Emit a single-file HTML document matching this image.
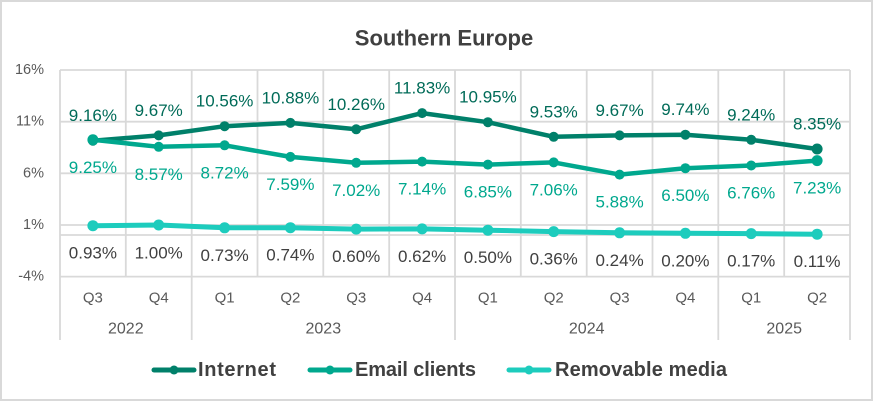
<!DOCTYPE html>
<html><head><meta charset="utf-8"><style>
html,body{margin:0;padding:0;background:#fff;}
svg{display:block;font-family:"Liberation Sans",sans-serif;}
</style></head><body>
<svg width="874" height="402" viewBox="0 0 874 402" xmlns="http://www.w3.org/2000/svg">
<rect x="1" y="1" width="871" height="399" fill="#fff" stroke="#d9d9d9" stroke-width="2"/>
<text x="444" y="38" text-anchor="middle" dominant-baseline="central" font-size="22" font-weight="bold" fill="#404040">Southern Europe</text>
<g stroke="#d9d9d9" stroke-width="1.8" fill="none">
<line x1="60" y1="70" x2="850" y2="70"/>
<line x1="60" y1="121.7" x2="850" y2="121.7"/>
<line x1="60" y1="173.3" x2="850" y2="173.3"/>
<line x1="60" y1="225" x2="850" y2="225"/>
<line x1="60" y1="235" x2="850" y2="235"/>
<line x1="60" y1="276.6" x2="850" y2="276.6"/>
<line x1="60" y1="70" x2="60" y2="340"/>
<line x1="125.8" y1="70" x2="125.8" y2="276.6"/>
<line x1="191.7" y1="70" x2="191.7" y2="340"/>
<line x1="257.5" y1="70" x2="257.5" y2="276.6"/>
<line x1="323.3" y1="70" x2="323.3" y2="276.6"/>
<line x1="389.2" y1="70" x2="389.2" y2="276.6"/>
<line x1="455" y1="70" x2="455" y2="340"/>
<line x1="520.8" y1="70" x2="520.8" y2="276.6"/>
<line x1="586.7" y1="70" x2="586.7" y2="276.6"/>
<line x1="652.5" y1="70" x2="652.5" y2="276.6"/>
<line x1="718.3" y1="70" x2="718.3" y2="340"/>
<line x1="784.2" y1="70" x2="784.2" y2="276.6"/>
<line x1="850" y1="70" x2="850" y2="340"/>
</g>
<g font-size="14.5" fill="#595959" text-anchor="end" dominant-baseline="central">
<text x="44" y="70">16%</text>
<text x="44" y="121.7">11%</text>
<text x="44" y="173.3">6%</text>
<text x="44" y="225">1%</text>
<text x="44" y="276.6">-4%</text>
</g>
<g font-size="15" fill="#595959" text-anchor="middle" dominant-baseline="central">
<text x="92.9" y="298">Q3</text><text x="158.7" y="298">Q4</text>
<text x="224.6" y="298">Q1</text><text x="290.4" y="298">Q2</text>
<text x="356.2" y="298">Q3</text><text x="422.1" y="298">Q4</text>
<text x="487.9" y="298">Q1</text><text x="553.7" y="298">Q2</text>
<text x="619.6" y="298">Q3</text><text x="685.4" y="298">Q4</text>
<text x="751.2" y="298">Q1</text><text x="817.1" y="298">Q2</text>
<text x="125.8" y="329" font-size="16">2022</text>
<text x="323.3" y="329" font-size="16">2023</text>
<text x="586.7" y="329" font-size="16">2024</text>
<text x="784.2" y="329" font-size="16">2025</text>
</g>
<!-- Internet -->
<polyline fill="none" stroke="#00806A" stroke-width="4.5" stroke-linejoin="round" points="92.9,140.7 158.7,135.4 224.6,126.2 290.4,122.9 356.2,129.3 422.1,113.1 487.9,122.2 553.7,136.8 619.6,135.4 685.4,134.7 751.2,139.8 817.1,149.0"/>
<g fill="#00806A">
<circle cx="92.9" cy="140.7" r="5"/><circle cx="158.7" cy="135.4" r="5"/><circle cx="224.6" cy="126.2" r="5"/><circle cx="290.4" cy="122.9" r="5"/><circle cx="356.2" cy="129.3" r="5"/><circle cx="422.1" cy="113.1" r="5"/><circle cx="487.9" cy="122.2" r="5"/><circle cx="553.7" cy="136.8" r="5"/><circle cx="619.6" cy="135.4" r="5"/><circle cx="685.4" cy="134.7" r="5"/><circle cx="751.2" cy="139.8" r="5"/><circle cx="817.1" cy="149.0" r="5.5"/>
</g>
<!-- Email -->
<polyline fill="none" stroke="#00A88E" stroke-width="4.5" stroke-linejoin="round" points="92.9,139.8 158.7,146.8 224.6,145.3 290.4,156.9 356.2,162.8 422.1,161.6 487.9,164.6 553.7,162.4 619.6,174.6 685.4,168.2 751.2,165.5 817.1,160.6"/>
<g fill="#00A88E">
<circle cx="92.9" cy="139.8" r="5.5"/><circle cx="158.7" cy="146.8" r="5"/><circle cx="224.6" cy="145.3" r="5"/><circle cx="290.4" cy="156.9" r="5"/><circle cx="356.2" cy="162.8" r="5"/><circle cx="422.1" cy="161.6" r="5"/><circle cx="487.9" cy="164.6" r="5"/><circle cx="553.7" cy="162.4" r="5"/><circle cx="619.6" cy="174.6" r="5"/><circle cx="685.4" cy="168.2" r="5"/><circle cx="751.2" cy="165.5" r="5"/><circle cx="817.1" cy="160.6" r="5.5"/>
</g>
<!-- Removable -->
<polyline fill="none" stroke="#1DCCBD" stroke-width="5" stroke-linejoin="round" points="92.9,225.7 158.7,225.0 224.6,227.8 290.4,227.7 356.2,229.1 422.1,228.9 487.9,230.2 553.7,231.6 619.6,232.8 685.4,233.3 751.2,233.6 817.1,234.2"/>
<g fill="#1DCCBD">
<circle cx="92.9" cy="225.7" r="5.5"/><circle cx="158.7" cy="225.0" r="5.5"/><circle cx="224.6" cy="227.8" r="5.5"/><circle cx="290.4" cy="227.7" r="5.5"/><circle cx="356.2" cy="229.1" r="5.5"/><circle cx="422.1" cy="228.9" r="5.5"/><circle cx="487.9" cy="230.2" r="5.5"/><circle cx="553.7" cy="231.6" r="5.5"/><circle cx="619.6" cy="232.8" r="5.5"/><circle cx="685.4" cy="233.3" r="5.5"/><circle cx="751.2" cy="233.6" r="5.5"/><circle cx="817.1" cy="234.2" r="5.5"/>
</g>
<!-- Labels -->
<g font-size="17" fill="#006B58" text-anchor="middle" dominant-baseline="central">
<text x="92.9" y="115.7">9.16%</text><text x="158.7" y="110.4">9.67%</text><text x="224.6" y="101.2">10.56%</text><text x="290.4" y="97.9">10.88%</text><text x="356.2" y="104.3">10.26%</text><text x="422.1" y="88.1">11.83%</text><text x="487.9" y="97.2">10.95%</text><text x="553.7" y="111.8">9.53%</text><text x="619.6" y="110.4">9.67%</text><text x="685.4" y="109.7">9.74%</text><text x="751.2" y="114.8">9.24%</text><text x="817.1" y="124.0">8.35%</text>
</g>
<g font-size="17" fill="#00A88E" text-anchor="middle" dominant-baseline="central">
<text x="92.9" y="167.3">9.25%</text><text x="158.7" y="174.3">8.57%</text><text x="224.6" y="172.8">8.72%</text><text x="290.4" y="184.4">7.59%</text><text x="356.2" y="190.3">7.02%</text><text x="422.1" y="189.1">7.14%</text><text x="487.9" y="192.1">6.85%</text><text x="553.7" y="189.9">7.06%</text><text x="619.6" y="202.1">5.88%</text><text x="685.4" y="195.7">6.50%</text><text x="751.2" y="193.0">6.76%</text><text x="817.1" y="188.1">7.23%</text>
</g>
<g font-size="17" fill="#404040" text-anchor="middle" dominant-baseline="central">
<text x="92.9" y="253.2">0.93%</text><text x="158.7" y="252.8">1.00%</text><text x="224.6" y="255.3">0.73%</text><text x="290.4" y="255.2">0.74%</text><text x="356.2" y="256.6">0.60%</text><text x="422.1" y="256.4">0.62%</text><text x="487.9" y="257.7">0.50%</text><text x="553.7" y="259.1">0.36%</text><text x="619.6" y="260.3">0.24%</text><text x="685.4" y="260.8">0.20%</text><text x="751.2" y="261.1">0.17%</text><text x="817.1" y="261.7">0.11%</text>
</g>
<!-- Legend -->
<g stroke-width="5" stroke-linecap="round">
<line x1="154" y1="370" x2="194" y2="370" stroke="#00806A"/>
<line x1="310" y1="370" x2="350" y2="370" stroke="#00A88E"/>
<line x1="509" y1="370" x2="549" y2="370" stroke="#1DCCBD"/>
</g>
<circle cx="174" cy="370" r="4.5" fill="#00806A"/>
<circle cx="330" cy="370" r="4.5" fill="#00A88E"/>
<circle cx="529" cy="370" r="4.5" fill="#1DCCBD"/>
<g font-size="20" font-weight="bold" fill="#404040" dominant-baseline="central">
<text x="198" y="370" textLength="78">Internet</text>
<text x="355" y="370" textLength="121">Email clients</text>
<text x="555" y="370" textLength="172">Removable media</text>
</g>
</svg>
</body></html>
